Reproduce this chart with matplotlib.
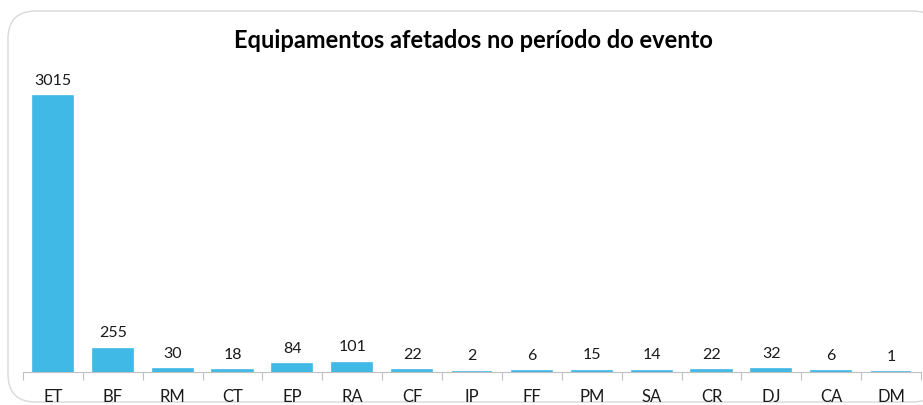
import matplotlib
matplotlib.use("Agg")
import matplotlib.pyplot as plt
from matplotlib.patches import FancyBboxPatch

categories = ["ET", "BF", "RM", "CT", "EP", "RA", "CF", "IP", "FF", "PM", "SA", "CR", "DJ", "CA", "DM"]
values = [3015, 255, 30, 18, 84, 101, 22, 2, 6, 15, 14, 22, 32, 6, 1]
title = "Equipamentos afetados no período do evento"

plt.rcParams['font.family'] = ['Lato', 'DejaVu Sans']

W, H = 923, 405
fig = plt.figure(figsize=(W / 100, H / 100), dpi=100)
fig.patch.set_facecolor("white")

# rounded border
box = FancyBboxPatch((8 / W, 1 - 402 / H), (940 - 8) / W, (402 - 11) / H,
                     boxstyle="round,pad=0,rounding_size=0.03",
                     transform=fig.transFigure, facecolor="white",
                     edgecolor="#d9d9d9", linewidth=1.0, mutation_aspect=W / H,
                     zorder=-5)
fig.patches.append(box)

ax = fig.add_axes([23 / W, 1 - 372 / H, (921 - 23) / W, (372 - 70) / H])
ax.set_zorder(2)
ax.set_facecolor("none")
x = list(range(len(categories)))
ax.bar(x, values, width=0.67, color="#41B9E6", edgecolor="#41B9E6",
       linewidth=1.2, zorder=2)
ax.set_xlim(-0.5, len(categories) - 0.5)
ax.set_ylim(0, 3015 * 302 / 276)

for xi, v in zip(x, values):
    ax.annotate(str(v), (xi, v), xytext=(0, 6), textcoords="offset points",
                ha="center", va="bottom", fontsize=11.5, color="#1a1a1a")

for s in ["top", "right", "left"]:
    ax.spines[s].set_visible(False)
ax.spines["bottom"].set_color("#bfbfbf")
ax.set_yticks([])
ax.set_xticks([i + 0.5 for i in range(-1, len(categories))])
ax.set_xticklabels([])
ax.tick_params(axis="x", length=6, color="#bfbfbf")
ax.set_xticks(x, minor=True)
ax.set_xticklabels(categories, minor=True, fontsize=12, color="#1a1a1a")
ax.tick_params(axis="x", which="minor", length=0, pad=12)

fig.text(473 / W, 1 - 40 / H, title, ha="center", va="center",
         fontsize=17, fontweight="bold", color="#000000", zorder=3)

fig.savefig("out.png", dpi=100)
